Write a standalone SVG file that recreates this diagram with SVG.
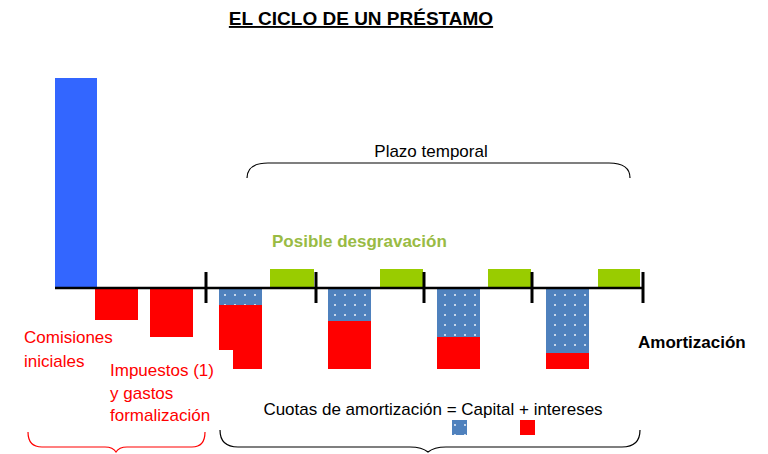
<svg xmlns="http://www.w3.org/2000/svg" width="768" height="454" viewBox="0 0 768 454">
<style>
text{font-family:"Liberation Sans",Arial,sans-serif;font-size:17px}
.red{fill:#ff0000}.blu{fill:url(#dots)}.grn{fill:#99cc00}
.tick{stroke:#000;stroke-width:3}
.brace{fill:none;stroke:#000;stroke-width:1.2}
</style>
<defs>
<pattern id="dots" width="10" height="10" patternUnits="userSpaceOnUse"><rect width="10" height="10" fill="#4f81bd"/><circle cx="5" cy="5" r="0.9" fill="#fff"/></pattern>
</defs>
<text x="361" y="25" text-anchor="middle" style="font-size:19px" font-weight="bold" text-decoration="underline">EL CICLO DE UN PRÉSTAMO</text>
<g id="bars">
<rect x="55" y="78" width="42" height="210" fill="#3366ff"/>
<rect class="red" x="95" y="288" width="43" height="32"/>
<rect class="red" x="150" y="288" width="43" height="49"/>
<rect class="grn" x="270" y="269" width="44" height="19"/>
<rect class="grn" x="380" y="269" width="43" height="19"/>
<rect class="grn" x="488" y="269" width="43" height="19"/>
<rect class="grn" x="598" y="269" width="42" height="19"/>
<rect class="blu" x="219" y="288" width="43" height="17"/>
<path class="red" d="M219 305H262V369H233V350H219Z"/>
<rect class="blu" x="328" y="288" width="43" height="33"/>
<rect class="red" x="328" y="321" width="43" height="48"/>
<rect class="blu" x="437" y="288" width="43" height="49"/>
<rect class="red" x="437" y="337" width="43" height="32"/>
<rect class="blu" x="546" y="288" width="43" height="65"/>
<rect class="red" x="546" y="353" width="43" height="16"/>
</g>
<g id="axis">
<line x1="55" y1="288" x2="643" y2="288" stroke="#000" stroke-width="2.5"/>
<line class="tick" x1="206" y1="272" x2="206" y2="303"/>
<line class="tick" x1="316" y1="272" x2="316" y2="303"/>
<line class="tick" x1="424" y1="272" x2="424" y2="303"/>
<line class="tick" x1="532" y1="272" x2="532" y2="303"/>
<line class="tick" x1="643" y1="272" x2="643" y2="303"/>
</g>
<g id="braces">
<path class="brace" d="M247 178Q247 163 268 163H609Q630 163 630 178"/>
<path class="brace" d="M220 430Q220 447 238 447H410Q422 447 428 452Q434 447 446 447H622Q640 447 640 430"/>
<path class="brace" style="stroke:#ff0000" d="M28 432Q28 447 42 447H105Q113 447 116 452Q119 447 127 447H192Q205 447 205 432"/>
</g>
<g id="labels">
<text x="431" y="157" text-anchor="middle">Plazo temporal</text>
<text x="272" y="247" font-weight="bold" fill="#99bb44">Posible desgravación</text>
<text x="638" y="348" font-weight="bold">Amortización</text>
<text x="24" y="343" fill="#ff0000">Comisiones</text>
<text x="24" y="367" fill="#ff0000">iniciales</text>
<text x="110" y="376" fill="#ff0000">Impuestos (1)</text>
<text x="110" y="399" fill="#ff0000">y gastos</text>
<text x="110" y="421" fill="#ff0000">formalización</text>
<text x="433" y="415" text-anchor="middle">Cuotas de amortización = Capital + intereses</text>
<rect class="blu" x="452" y="420" width="15" height="15"/>
<rect class="red" x="520" y="420" width="15" height="15"/>
</g>
</svg>
